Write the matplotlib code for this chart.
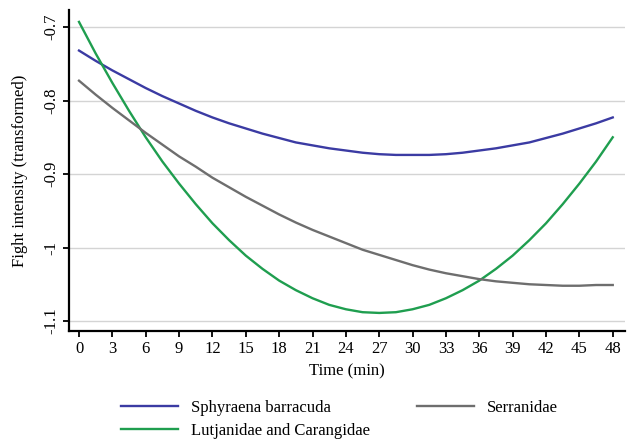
import matplotlib
matplotlib.use("Agg")
import matplotlib.pyplot as plt

plt.rcParams['font.family'] = ['Liberation Serif', 'DejaVu Serif']

# time points (min) and fitted fight intensity
time_min = [0, 1.5, 3, 4.5, 6, 7.5, 9, 10.5, 12, 13.5, 15, 16.5, 18, 19.5, 21, 22.5,
            24, 25.5, 27, 28.5, 30, 31.5, 33, 34.5, 36, 37.5, 39, 40.5, 42, 43.5,
            45, 46.5, 48]

sphyraena = [-0.732, -0.746, -0.759, -0.771, -0.783, -0.794, -0.804, -0.814, -0.823,
             -0.831, -0.838, -0.845, -0.851, -0.857, -0.861, -0.865, -0.868, -0.871,
             -0.873, -0.874, -0.874, -0.874, -0.873, -0.871, -0.868, -0.865, -0.861,
             -0.857, -0.851, -0.845, -0.838, -0.831, -0.823]
lutjanidae = [-0.693, -0.736, -0.776, -0.814, -0.850, -0.883, -0.913, -0.941, -0.967,
              -0.990, -1.011, -1.029, -1.045, -1.058, -1.069, -1.078, -1.084, -1.088,
              -1.089, -1.088, -1.084, -1.078, -1.069, -1.058, -1.045, -1.029, -1.011,
              -0.990, -0.967, -0.941, -0.913, -0.883, -0.850]
serranidae = [-0.773, -0.792, -0.810, -0.827, -0.844, -0.860, -0.876, -0.890, -0.905,
              -0.918, -0.931, -0.943, -0.955, -0.966, -0.976, -0.985, -0.994, -1.003,
              -1.010, -1.017, -1.024, -1.030, -1.035, -1.039, -1.043, -1.046, -1.048,
              -1.050, -1.051, -1.052, -1.052, -1.051, -1.051]

x_ticks = list(range(0, 49, 3))
y_ticks = [-0.7, -0.8, -0.9, -1.0, -1.1]
y_labels = ['-0.7', '-0.8', '-0.9', '-1', '-1.1']

fig = plt.figure(figsize=(6.29, 4.41), dpi=100)
ax = fig.add_axes([0.1097, 0.2494, 0.8839, 0.7276])

ax.plot(time_min, sphyraena, color='#3b3ba3', lw=1.7, label='Sphyraena barracuda')
ax.plot(time_min, lutjanidae, color='#1f9e4f', lw=1.7, label='Lutjanidae and Carangidae')
ax.plot(time_min, serranidae, color='#6e6e6e', lw=1.7, label='Serranidae')

ax.set_xlim(-0.9, 49.1)
ax.set_ylim(-1.1136, -0.677)
ax.set_xticks(x_ticks)
ax.set_yticks(y_ticks)
ax.set_yticklabels(y_labels, rotation=90, va='center')
ax.grid(axis='y', color='#d4d4d4', lw=1.0)
ax.set_axisbelow(True)

for side in ['top', 'right']:
    ax.spines[side].set_visible(False)
for side in ['left', 'bottom']:
    ax.spines[side].set_linewidth(1.6)
ax.tick_params(direction='out', length=4, width=1.3, labelsize=12, pad=3)

ax.set_xlabel('Time (min)', fontsize=12, labelpad=5)
ax.set_ylabel('Fight intensity (transformed)', fontsize=12, labelpad=11)

fig.legend(loc='center', bbox_to_anchor=(0.54, 0.049), ncol=2, frameon=False,
           fontsize=12, handlelength=3.4, handletextpad=0.8, columnspacing=2.8,
           labelspacing=0.4)

fig.savefig('out.png', dpi=100)
